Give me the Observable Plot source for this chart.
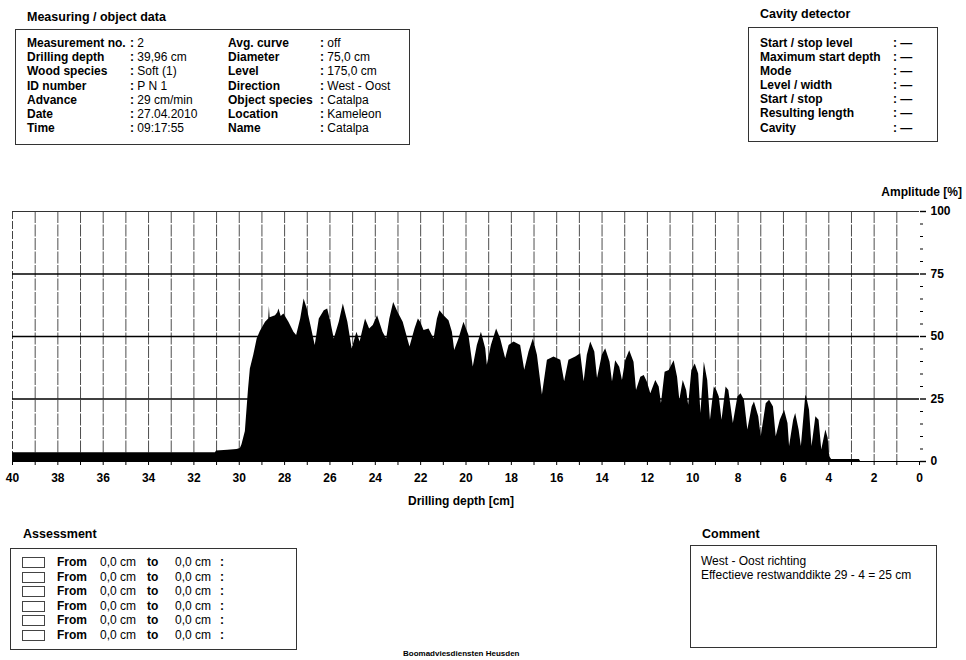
<!DOCTYPE html>
<html>
<head>
<meta charset="utf-8">
<script src="https://cdn.jsdelivr.net/npm/d3@7"></script>
<script src="https://cdn.jsdelivr.net/npm/@observablehq/plot@0.6"></script>
<style>
  html, body { margin: 0; padding: 0; background: #fff; }
  body { width: 966px; height: 660px; position: relative; overflow: hidden;
         font-family: "Liberation Sans", Arial, sans-serif; color: #000; }
  #chart { position: absolute; left: 0; top: 0; }
  .abs { position: absolute; white-space: nowrap; }
  .title { font-weight: bold; font-size: 12.5px; }
  .box { position: absolute; border: 1px solid #333; box-sizing: border-box; }
  .row { position: absolute; font-size: 12px; line-height: 14px; white-space: nowrap; }
  .b { font-weight: bold; }
  .sq { position: absolute; width: 23px; height: 11px; border: 1px solid #444; box-sizing: border-box; }
</style>
</head>
<body>
<div id="chart"></div>
<script>
// ---- data ----
const depths = [40, 31.05, 31.0, 30.5, 30.1, 29.95, 29.88, 29.73, 29.59, 29.51, 29.36, 29.21, 29.07,
  28.84, 28.7, 28.67, 28.64, 28.4, 28.3, 28.25, 28.15, 28.03, 27.81, 27.59, 27.47, 27.29, 27.14,
  27.0, 26.84, 26.65, 26.47, 26.25, 26.1, 25.96, 25.81, 25.59, 25.41, 25.21, 25.02, 24.81, 24.67,
  24.43, 24.25, 24.09, 23.9, 23.66, 23.5, 23.36, 23.19, 23.0, 22.77, 22.47, 22.25, 22.1, 22.0,
  21.85, 21.63, 21.41, 21.26, 21.15, 20.97, 20.75, 20.6, 20.5, 20.31, 20.09, 19.87, 19.68, 19.5,
  19.32, 19.13, 19.06, 18.88, 18.65, 18.47, 18.25, 18.1, 17.88, 17.59, 17.41, 17.22, 17.03, 16.85,
  16.74, 16.63, 16.41, 16.12, 15.82, 15.65, 15.46, 15.16, 14.94, 14.79, 14.65, 14.5, 14.32, 14.2,
  13.99, 13.84, 13.65, 13.54, 13.4, 13.22, 13.1, 12.96, 12.78, 12.59, 12.48, 12.29, 12.14, 12.0,
  11.85, 11.63, 11.48, 11.38, 11.22, 11.04, 10.82, 10.67, 10.57, 10.42, 10.27, 10.18, 10.04, 9.89,
  9.74, 9.64, 9.49, 9.34, 9.22, 9.05, 8.94, 8.83, 8.71, 8.53, 8.41, 8.21, 8.01, 7.87, 7.72, 7.57,
  7.38, 7.28, 7.09, 6.98, 6.76, 6.61, 6.44, 6.32, 6.14, 5.95, 5.80, 5.73, 5.55, 5.46, 5.31, 5.21,
  5.02, 4.99, 4.85, 4.74, 4.57, 4.43, 4.31, 4.13, 4.03, 3.96, 3.88, 2.65, 2.6, 0];
const amplitudes = [3.5, 3.5, 4.2, 4.5, 4.8, 5.2, 6.7, 12, 29, 37, 42.5, 49, 52,
  55.7, 57, 62, 57.5, 58.3, 59.5, 61, 58, 59, 55.7, 51.7, 50.4, 57, 65,
  61, 54.4, 46.4, 57, 60.3, 61, 55.7, 49, 55.7, 63, 55.7, 45, 51.7, 47.8,
  57, 53, 54.4, 58.3, 51.7, 49, 57, 63.6, 59.7, 55.7, 45.8, 53, 57, 55.7,
  52.4, 53, 49, 57, 60.3, 58.3, 56.3, 51.7, 44.4, 49, 55.7, 50.4, 37.8, 46.4,
  51.7, 45.1, 38.5, 46.4, 53, 49, 41.1, 46.4, 47.8, 46.4, 36.5, 43.8, 49, 42.5,
  34.5, 26.6, 40.5, 41.8, 40.5, 31.9, 40.5, 41.8, 43.1, 31.9, 42.5, 47.8, 43.8, 33.2,
  42.5, 45.1, 39.8, 31.9, 40.3, 37.7, 32.4, 40.3, 44.3, 39.7, 28.4, 33.7, 34.4, 31.7,
  27.1, 32.4, 29.8, 23.1, 35.7, 36.4, 40.3, 33.7, 24.5, 32.4, 28.4, 22.5, 36.4, 39,
  35, 19.2, 39.7, 32.4, 16.5, 29.8, 28.4, 25.8, 16.5, 29.8, 28.4, 15.2, 25.8, 27.1, 24.5, 12.6,
  21.8, 23.8, 17.9, 9.9, 23.1, 24.5, 21.8, 9.9, 16.5, 20.5, 15.2, 6, 16.5, 19.2, 12.6, 6,
  25.8, 26.5, 20.5, 6, 17.9, 16.5, 4.6, 12.6, 9.3, 2, 0.8, 0.8, 0, 0];

const xLabelTicks = [40, 38, 36, 34, 32, 30, 28, 26, 24, 22, 20, 18, 16, 14, 12, 10, 8, 6, 4, 2, 0];
const xGridTicks = [39, 38, 37, 36, 35, 34, 33, 32, 31, 30, 29, 28, 27, 26, 25, 24, 23, 22, 21, 20,
  19, 18, 17, 16, 15, 14, 13, 12, 11, 10, 9, 8, 7, 6, 5, 4, 3, 2, 1];
const xMinorTicks = [40, ...xGridTicks, 0];
const yMajorTicks = [0, 25, 50, 75, 100];
const yGridLines = [25, 50, 75];
const yMinorTicks = [5, 10, 15, 20, 30, 35, 40, 45, 55, 60, 65, 70, 80, 85, 90, 95];

const profile = depths.map((d, i) => ({depth: d, amp: amplitudes[i]}));

const chart = Plot.plot({
  width: 966,
  height: 660,
  marginLeft: 12,
  marginRight: 47,
  marginTop: 211,
  marginBottom: 199,
  style: {fontFamily: '"Liberation Sans", Arial, sans-serif', background: "transparent", overflow: "visible"},
  x: {domain: [40, 0], label: null},
  y: {domain: [0, 100], label: null},
  marks: [
    Plot.ruleX(xGridTicks, {stroke: "#3a3a3a", strokeWidth: 0.9, strokeDasharray: "12,1.5"}),
    Plot.ruleX([40], {stroke: "#444", strokeWidth: 1, strokeDasharray: "8,2"}),
    Plot.ruleY([100], {stroke: "#333", strokeWidth: 1}),
    Plot.ruleY(yGridLines, {stroke: "#000", strokeWidth: 1.4}),
    Plot.areaY(profile, {x: "depth", y: "amp", fill: "#000", curve: "linear"}),
    Plot.ruleY([0], {stroke: "#000", strokeWidth: 1.2}),
    Plot.axisX({ticks: xMinorTicks, tickSize: 4, tickFormat: () => "", label: null, stroke: "#000"}),
    Plot.axisX({ticks: xLabelTicks, tickSize: 0, tickPadding: 12, fontSize: 12, fontWeight: "bold", label: null}),
    Plot.axisY({anchor: "right", ticks: yMinorTicks, tickSize: 3, tickFormat: () => "", label: null}),
    Plot.axisY({anchor: "right", ticks: yMajorTicks, tickSize: 6, tickPadding: 5, fontSize: 12, fontWeight: "bold", label: null, strokeWidth: 1.4})
  ]
});
document.getElementById("chart").appendChild(chart);
</script>

<!-- Measuring / object data -->
<div class="abs title" style="left:27px; top:10px;">Measuring / object data</div>
<div class="box" style="left:15px; top:29px; width:395px; height:116px;"></div>
<div class="row b" style="left:27px; top:36px;">Measurement no.</div>
<div class="row" style="left:130px; top:36px;"><b>:</b> 2</div>
<div class="row b" style="left:27px; top:50px;">Drilling depth</div>
<div class="row" style="left:130px; top:50px;"><b>:</b> 39,96 cm</div>
<div class="row b" style="left:27px; top:64px;">Wood species</div>
<div class="row" style="left:130px; top:64px;"><b>:</b> Soft (1)</div>
<div class="row b" style="left:27px; top:79px;">ID number</div>
<div class="row" style="left:130px; top:79px;"><b>:</b> P N 1</div>
<div class="row b" style="left:27px; top:93px;">Advance</div>
<div class="row" style="left:130px; top:93px;"><b>:</b> 29 cm/min</div>
<div class="row b" style="left:27px; top:107px;">Date</div>
<div class="row" style="left:130px; top:107px;"><b>:</b> 27.04.2010</div>
<div class="row b" style="left:27px; top:121px;">Time</div>
<div class="row" style="left:130px; top:121px;"><b>:</b> 09:17:55</div>

<div class="row b" style="left:228px; top:36px;">Avg. curve</div>
<div class="row" style="left:320px; top:36px;"><b>:</b> off</div>
<div class="row b" style="left:228px; top:50px;">Diameter</div>
<div class="row" style="left:320px; top:50px;"><b>:</b> 75,0 cm</div>
<div class="row b" style="left:228px; top:64px;">Level</div>
<div class="row" style="left:320px; top:64px;"><b>:</b> 175,0 cm</div>
<div class="row b" style="left:228px; top:79px;">Direction</div>
<div class="row" style="left:320px; top:79px;"><b>:</b> West - Oost</div>
<div class="row b" style="left:228px; top:93px;">Object species</div>
<div class="row" style="left:320px; top:93px;"><b>:</b> Catalpa</div>
<div class="row b" style="left:228px; top:107px;">Location</div>
<div class="row" style="left:320px; top:107px;"><b>:</b> Kameleon</div>
<div class="row b" style="left:228px; top:121px;">Name</div>
<div class="row" style="left:320px; top:121px;"><b>:</b> Catalpa</div>

<!-- Cavity detector -->
<div class="abs title" style="left:760px; top:7px;">Cavity detector</div>
<div class="box" style="left:748px; top:27px; width:190px; height:115px;"></div>
<div class="row b" style="left:760px; top:36px;">Start / stop level</div>
<div class="row b" style="left:893px; top:36px;">: &#8212;</div>
<div class="row b" style="left:760px; top:50px;">Maximum start depth</div>
<div class="row b" style="left:893px; top:50px;">: &#8212;</div>
<div class="row b" style="left:760px; top:64px;">Mode</div>
<div class="row b" style="left:893px; top:64px;">: &#8212;</div>
<div class="row b" style="left:760px; top:78px;">Level / width</div>
<div class="row b" style="left:893px; top:78px;">: &#8212;</div>
<div class="row b" style="left:760px; top:92px;">Start / stop</div>
<div class="row b" style="left:893px; top:92px;">: &#8212;</div>
<div class="row b" style="left:760px; top:106px;">Resulting length</div>
<div class="row b" style="left:893px; top:106px;">: &#8212;</div>
<div class="row b" style="left:760px; top:121px;">Cavity</div>
<div class="row b" style="left:893px; top:121px;">: &#8212;</div>

<!-- axis labels -->
<div class="abs" style="right:4px; top:185px; font-weight:bold; font-size:12px;">Amplitude [%]</div>
<div class="abs" style="left:408px; top:494px; font-weight:bold; font-size:12px;">Drilling depth [cm]</div>

<!-- Assessment -->
<div class="abs title" style="left:23px; top:527px;">Assessment</div>
<div class="box" style="left:10px; top:548px; width:287px; height:102px;"></div>
<div class="sq" style="left:22px; top:557px;"></div>
<div class="row" style="left:57px; top:555px;"><b>From</b></div>
<div class="row" style="left:100px; top:555px;">0,0 cm</div>
<div class="row" style="left:147px; top:555px;"><b>to</b></div>
<div class="row" style="left:175px; top:555px;">0,0 cm</div>
<div class="row" style="left:220px; top:555px;"><b>:</b></div>
<div class="sq" style="left:22px; top:572px;"></div>
<div class="row" style="left:57px; top:570px;"><b>From</b></div>
<div class="row" style="left:100px; top:570px;">0,0 cm</div>
<div class="row" style="left:147px; top:570px;"><b>to</b></div>
<div class="row" style="left:175px; top:570px;">0,0 cm</div>
<div class="row" style="left:220px; top:570px;"><b>:</b></div>
<div class="sq" style="left:22px; top:586px;"></div>
<div class="row" style="left:57px; top:584px;"><b>From</b></div>
<div class="row" style="left:100px; top:584px;">0,0 cm</div>
<div class="row" style="left:147px; top:584px;"><b>to</b></div>
<div class="row" style="left:175px; top:584px;">0,0 cm</div>
<div class="row" style="left:220px; top:584px;"><b>:</b></div>
<div class="sq" style="left:22px; top:601px;"></div>
<div class="row" style="left:57px; top:599px;"><b>From</b></div>
<div class="row" style="left:100px; top:599px;">0,0 cm</div>
<div class="row" style="left:147px; top:599px;"><b>to</b></div>
<div class="row" style="left:175px; top:599px;">0,0 cm</div>
<div class="row" style="left:220px; top:599px;"><b>:</b></div>
<div class="sq" style="left:22px; top:615px;"></div>
<div class="row" style="left:57px; top:613px;"><b>From</b></div>
<div class="row" style="left:100px; top:613px;">0,0 cm</div>
<div class="row" style="left:147px; top:613px;"><b>to</b></div>
<div class="row" style="left:175px; top:613px;">0,0 cm</div>
<div class="row" style="left:220px; top:613px;"><b>:</b></div>
<div class="sq" style="left:22px; top:630px;"></div>
<div class="row" style="left:57px; top:628px;"><b>From</b></div>
<div class="row" style="left:100px; top:628px;">0,0 cm</div>
<div class="row" style="left:147px; top:628px;"><b>to</b></div>
<div class="row" style="left:175px; top:628px;">0,0 cm</div>
<div class="row" style="left:220px; top:628px;"><b>:</b></div>

<!-- Comment -->
<div class="abs title" style="left:702px; top:527px;">Comment</div>
<div class="box" style="left:690px; top:545px; width:247px; height:103px;"></div>
<div class="row" style="left:701px; top:554px;">West - Oost richting</div>
<div class="row" style="left:701px; top:568px;">Effectieve restwanddikte 29 - 4 = 25 cm</div>

<!-- footer -->
<div class="abs" style="left:403px; top:649px; font-weight:bold; font-size:8px;">Boomadviesdiensten Heusden</div>
</body>
</html>
